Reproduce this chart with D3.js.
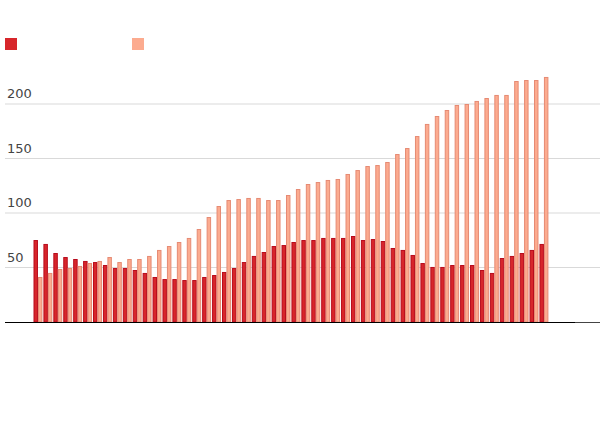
<!DOCTYPE html><html><head><meta charset="utf-8"><script src="https://cdn.jsdelivr.net/npm/d3@7"></script>
<style>body{margin:0;background:#fff}svg{display:block;font-family:"DejaVu Sans",sans-serif}</style></head><body><svg width="600" height="442"></svg><script>
const seriesA=[75.2,71.6,63.3,59.6,57.8,56,55,52.3,49.5,49.5,47.7,45,41.3,39.4,39.4,38.5,38.5,41.3,43.1,45.9,49.5,55,60.6,64.2,69.7,70.6,73.4,75.2,75.2,77.1,77.1,77.1,78.9,75.2,76.1,74.3,67.9,66.1,61.5,54.1,50.5,50.5,52.3,52.3,52.3,47.7,45,58.7,60.6,63.3,66.1,71.6];
const seriesB=[41.3,45,48.6,49.5,51.4,54.1,56,59.6,55,57.8,57.8,60.6,66.1,69.7,73.4,77.1,85.3,96.3,106.4,111.9,112.8,113.8,113.8,111.9,111.9,116.5,122,126.6,128.4,130.3,131.2,135.8,139.4,143.1,144,146.8,154.1,159.6,170.6,181.7,189,194.5,199.1,200,202.8,205.5,208.3,208.3,221.1,222,222,224.8];
const categories=seriesA.map((d,i)=>String(i+1));
const yTicks=[50,100,150,200];
const svg=d3.select("svg");
const y=d3.scaleLinear().domain([0,100]).range([322,213]);
const x=d3.scaleBand().domain(categories).range([33.5,547.5+0.9]).paddingInner(0.1).paddingOuter(0.0);
const xs=d3.scaleBand().domain([0,1]).range([0,x.bandwidth()]);
svg.append("g").selectAll("line").data(yTicks).join("line").attr("x1",5).attr("x2",600).attr("y1",d=>y(d)).attr("y2",d=>y(d)).attr("stroke","#d9d9d9").attr("stroke-width",1);
svg.append("g").selectAll("text").data(yTicks).join("text").attr("x",7).attr("y",d=>y(d)-6).text(d=>d).attr("font-size",13).attr("fill","#444");
const cols=[{f:"#d7262b",s:"#b80b1c"},{f:"#fcab8f",s:"#e68a73"}];
[seriesA,seriesB].forEach((s,k)=>{
 svg.append("g").selectAll("rect").data(s).join("rect")
 .attr("x",(d,i)=>x(categories[i])+xs(k)+0.5).attr("width",xs.bandwidth()-1)
 .attr("y",d=>y(d)+0.5).attr("height",d=>y(0)-y(d)-0.5)
 .attr("fill",cols[k].f).attr("stroke",cols[k].s).attr("stroke-width",1);
});
svg.append("line").attr("x1",5).attr("x2",575).attr("y1",322.5).attr("y2",322.5).attr("stroke","#000").attr("stroke-width",1.2);
svg.append("line").attr("x1",575).attr("x2",600).attr("y1",322.5).attr("y2",322.5).attr("stroke","#444").attr("stroke-width",1);
svg.append("rect").attr("x",5).attr("y",38).attr("width",12).attr("height",12).attr("fill",cols[0].f);
svg.append("rect").attr("x",132).attr("y",38).attr("width",12).attr("height",12).attr("fill",cols[1].f);
</script></body></html>
